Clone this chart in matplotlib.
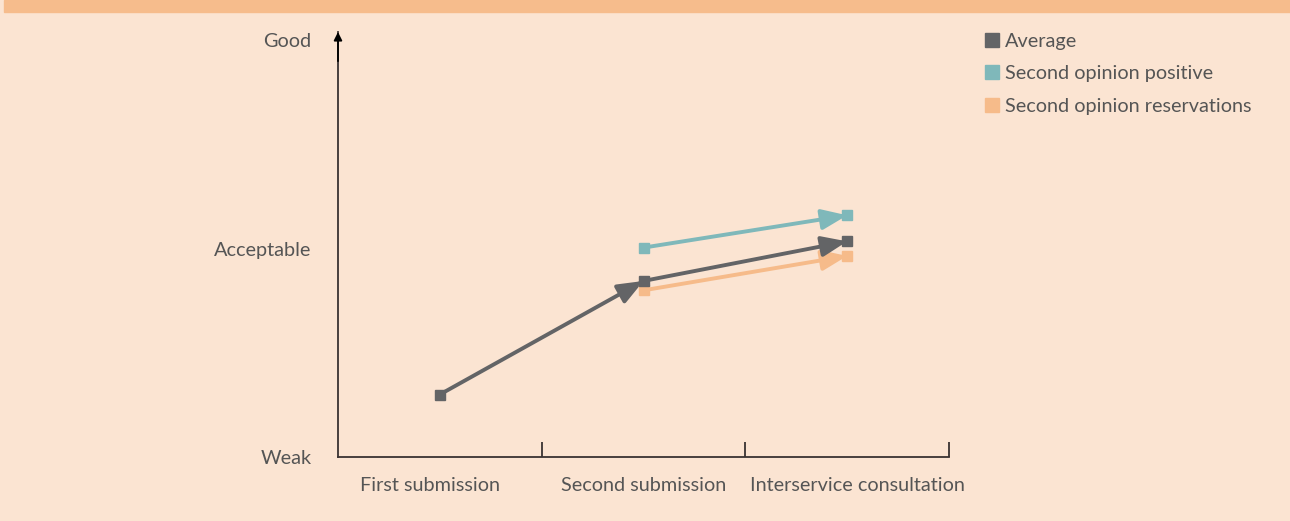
import matplotlib
matplotlib.use("Agg")
import matplotlib.pyplot as plt
from matplotlib.lines import Line2D
from matplotlib.patches import Rectangle

# Data
stages = ["First submission", "Second submission", "Interservice consultation"]
levels = ["Weak", "Acceptable", "Good"]
averageX = [0, 1, 2]
average = [0.30, 0.845, 1.035]
positiveX = [1, 2]
positive = [1.005, 1.16]
reservationsX = [1, 2]
reservations = [0.80, 0.965]

seriesNames = ["Average", "Second opinion positive", "Second opinion reservations"]
colors = ["#636466", "#7fb8ba", "#f6bb8a"]

bg = "#fbe4d2"
textColor = "#555555"
axisColor = "#3a3232"

plt.rcParams["font.family"] = ["Lato", "DejaVu Sans"]

fig = plt.figure(figsize=(12.9, 5.21), dpi=100, facecolor=bg)
fig.patches.append(Rectangle((4 / 1290, 1 - 12 / 521), 1, 12 / 521, transform=fig.transFigure,
                             color="#f6bc8c", zorder=0))

ax = fig.add_axes([338 / 1290, 64 / 521, 611 / 1290, 425 / 521])
ax.set_facecolor(bg)
ax.set_xlim(-0.5, 2.5)
ax.set_ylim(0, 2.04)

for s in ["top", "right"]:
    ax.spines[s].set_visible(False)
for s in ["left", "bottom"]:
    ax.spines[s].set_color(axisColor)
    ax.spines[s].set_linewidth(1.3)

# arrow on top of y axis
ax.annotate("", xy=(-0.5, 2.04), xytext=(-0.5, 1.9),
            arrowprops=dict(arrowstyle="-|>", color="black", lw=1.3, mutation_scale=12,
                            shrinkA=0, shrinkB=0), annotation_clip=False)

# ticks
ax.set_yticks([0, 1, 2])
ax.set_yticklabels(levels, fontsize=14.3, color=textColor)
ax.tick_params(axis="y", length=0, pad=19)
ax.set_xticks([0.5, 1.5, 2.5])
ax.set_xticklabels([])
ax.tick_params(axis="x", direction="in", length=11, width=1.3, color=axisColor)
for i, lab in enumerate(stages):
    ax.text(i - 0.05 if i == 0 else i + 0.05 * (i == 2), -0.135, lab, ha="center", va="center",
            fontsize=14.3, color=textColor, transform=ax.transData)

def drawSeries(xs, ys, color):
    for k in range(len(xs) - 1):
        ax.annotate("", xy=(xs[k + 1], ys[k + 1]), xytext=(xs[k], ys[k]),
                    arrowprops=dict(arrowstyle="-|>,head_length=0.55,head_width=0.22",
                                    color=color, lw=2.8, mutation_scale=28,
                                    shrinkA=0, shrinkB=0))
    ax.plot(xs, ys, linestyle="none", marker="s", markersize=6.5, color=color, zorder=5)

drawSeries(reservationsX, reservations, colors[2])
drawSeries(positiveX, positive, colors[1])
drawSeries(averageX, average, colors[0])

handles = [Line2D([], [], linestyle="none", marker="s", markersize=10, color=c) for c in colors]
fig.legend(handles, seriesNames, loc="upper left", bbox_to_anchor=(977 / 1290, 1 - 25 / 521),
           frameon=False, fontsize=14.3, labelcolor=textColor, handlelength=0.7,
           handletextpad=0.3, labelspacing=0.78, borderaxespad=0)

fig.savefig("out.png", dpi=100, facecolor=bg)
